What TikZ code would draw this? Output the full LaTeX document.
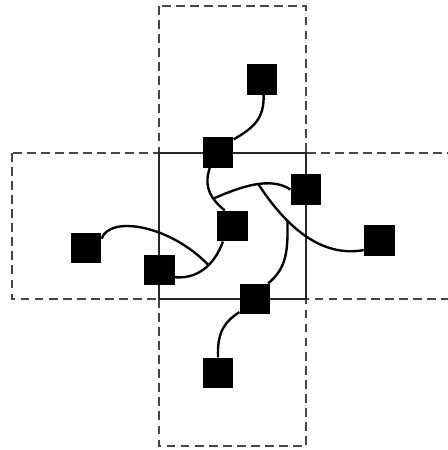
\documentclass[tikz,border=0pt]{standalone}
\usepackage{tikz}
\usetikzlibrary{backgrounds}
\usepackage{xcolor}
\definecolor{dfgray}{RGB}{70,70,70}
\definecolor{dfdark}{RGB}{40,40,40}
\tikzstyle{cell} = [draw=none,fill=black,minimum size=0.61cm,inner sep=0pt]
\tikzstyle{wire} = [line width=1.35pt,black]
\tikzstyle{halo} = [line width=0.65pt,dfgray,dash pattern=on 5pt off 3pt]

\begin{document}
\begin{tikzpicture}[x=0.02cm, y=-0.02cm]
\useasboundingbox (0,0) rectangle (448,450);
% Cells
\node[cell] (A) at (262,79.5) {};
\node[cell] (B) at (218,152.5) {};
\node[cell] (C) at (306,189.5) {};
\node[cell] (D) at (232.7,226) {};
\node[cell] (E) at (379.3,240.7) {};
\node[cell] (F) at (86,248) {};
\node[cell] (G) at (159.3,270) {};
\node[cell] (H) at (255,299) {};
\node[cell] (I) at (218,373) {};

\begin{pgfonlayer}{background}
% Neighbour regions
\draw[halo] (159,6) rectangle (306,153);
\draw[halo] (159,299) rectangle (306,446);
\draw[halo] (12,153) rectangle (159,299);
\draw[halo] (306,153) rectangle (453,299);
\draw[line width=0.6pt, dfdark] (159,153) rectangle (306,299);

% Wires
\draw[wire] (A.-84) .. controls (264,118) and (255,127) .. (B.40);
\draw[wire] (I.north) .. controls (217,330) and (226,321) .. (H.-140);
\draw[wire] (G.-25) .. controls (197,279) and (214,266) .. coordinate[pos=0.6] (j1) (D.-122);
\draw[wire] (F.31) .. controls (110,215) and (170,225) .. (j1);
\draw[wire] (B.-118) .. controls (203,188) and (212,200) .. coordinate[pos=0.65] (j2) (D.117);
\draw[wire] (j2) .. controls (240,187) and (270,176) .. coordinate[pos=0.55] (j3) (C.west);
\draw[wire] (j3) .. controls (285,225) and (320,258) .. coordinate[pos=0.33] (j4) (E.211);
\draw[wire] (H.50) .. controls (287,268) and (288,250) .. (j4);
\end{pgfonlayer}
\end{tikzpicture}
\end{document}
